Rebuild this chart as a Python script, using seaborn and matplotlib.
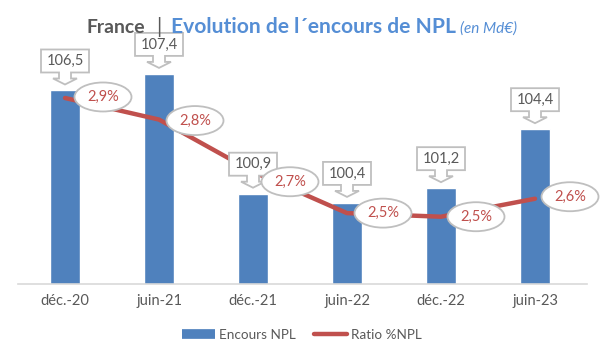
import numpy as np
import pandas as pd
import matplotlib
matplotlib.use("Agg")
import matplotlib.pyplot as plt
import matplotlib.transforms as mtransforms
from matplotlib.patches import Polygon, Ellipse
from matplotlib.lines import Line2D
import seaborn as sns

# ---- data ----
periods = ["déc.-20", "juin-21", "déc.-21", "juin-22", "déc.-22", "juin-23"]
encours = [106.5, 107.4, 100.9, 100.4, 101.2, 104.4]      # Md€
ratio = [2.86, 2.80, 2.655, 2.54, 2.53, 2.58]              # % NPL

# label placement offsets (pixels) for the ratio ellipses
label_dx = [38, 36, 37, 36, 35, 35]
label_dy = [1, -1, -10, 0, 0, 2]

BLUE = "#4F81BD"
RED = "#C0504D"
GRAY = "#595959"
BORDER = "#BFBFBF"
TBLUE = "#558ED5"

sns.set_theme(style="white")
plt.rcParams['font.family'] = ['Lato', 'DejaVu Sans']

W, H = 600, 360
fig = plt.figure(figsize=(W / 100, H / 100), dpi=100)
fig.patch.set_facecolor("white")

ax = fig.add_axes([18 / W, 76 / H, 569 / W, 222 / H])
df = pd.DataFrame({"period": periods, "encours": encours, "ratio": ratio})
sns.barplot(data=df, x="period", y="encours", color=BLUE, width=0.31,
            saturation=1, ax=ax, zorder=2)
XLIM = (-0.5, 5.5 + 5 / 94)
ax.set_ylim(96, 96 + 222 / 18.43)
ax.set_xlim(*XLIM)
ax.set_yticks([])
ax.set_xlabel("")
ax.set_ylabel("")
for s in ["top", "left", "right"]:
    ax.spines[s].set_visible(False)
ax.spines["bottom"].set_color("#D9D9D9")
ax.spines["bottom"].set_linewidth(1.2)
ax.tick_params(axis="x", length=0, pad=7, labelsize=10.5, labelcolor=GRAY)

ax2 = ax.twinx()
sns.lineplot(x=np.arange(len(ratio)), y=ratio, ax=ax2, color=RED,
             linewidth=3.2, solid_capstyle="round", zorder=3)
ax2.set_ylim(2.343, 2.960)
ax2.set_xlim(*XLIM)
ax2.set_yticks([])
ax2.set_ylabel("")
for s in ax2.spines.values():
    s.set_visible(False)

# ---- value callouts (box with down arrow) ----
callout = [(-24, 41), (24, 41), (24, 18), (6, 18), (6, 12), (12, 12), (0, 6),
           (-12, 12), (-6, 12), (-6, 18), (-24, 18)]
for i, v in enumerate(encours):
    tr = mtransforms.ScaledTranslation(i, v, ax.transData)
    p = Polygon(callout, closed=True, transform=tr, facecolor="white",
                edgecolor=BORDER, linewidth=1.3, zorder=5, clip_on=False)
    ax2.add_patch(p)
    ax2.text(0, 29.5, f"{v:.1f}".replace(".", ","), transform=tr,
             ha="center", va="center", fontsize=10.5, color=GRAY,
             zorder=6, clip_on=False)

# ---- ratio labels in ellipses ----
for i, r in enumerate(ratio):
    tr = mtransforms.ScaledTranslation(i, r, ax2.transData)
    cx, cy = label_dx[i], label_dy[i]
    e = Ellipse((cx, cy), 57, 29, transform=tr, facecolor="white",
                edgecolor=BORDER, linewidth=1.3, zorder=7, clip_on=False)
    ax2.add_patch(e)
    ax2.text(cx, cy, f"{r:.1f}".replace(".", ",") + "%", transform=tr,
             ha="center", va="center", fontsize=10.5, color=RED,
             zorder=8, clip_on=False)

# ---- title (pieces fitted to target widths) ----
renderer = fig.canvas.get_renderer()
base_y = 1 - 33 / H


def piece(x_left, txt, target_w, color, weight="bold", style="normal", size=14):
    t = fig.text(x_left / W, base_y, txt, color=color, fontweight=weight,
                 fontstyle=style, fontsize=size, ha="left", va="baseline")
    w = t.get_window_extent(renderer).width
    if target_w:
        t.set_fontsize(size * target_w / w)
    return t


piece(86, "France", 59, GRAY)
piece(156, "|", None, GRAY, weight="normal", size=15)
piece(171, "Evolution de l´encours de NPL", 286, TBLUE)
piece(460, "(en Md€)", 57, TBLUE, weight="normal", style="italic", size=9.5)

# ---- legend ----
handles = [Line2D([0], [0], color=BLUE, lw=7, solid_capstyle="butt"),
           Line2D([0], [0], color=RED, lw=3.2, solid_capstyle="round")]
fig.legend(handles, ["Encours NPL", "Ratio %NPL"], loc="center",
           bbox_to_anchor=(302 / W, 1 - 335 / H), ncol=2, frameon=False,
           fontsize=9.7, labelcolor=GRAY, handlelength=2.4,
           handletextpad=0.3, columnspacing=1.4)

fig.savefig("out.png", dpi=100, facecolor="white")
